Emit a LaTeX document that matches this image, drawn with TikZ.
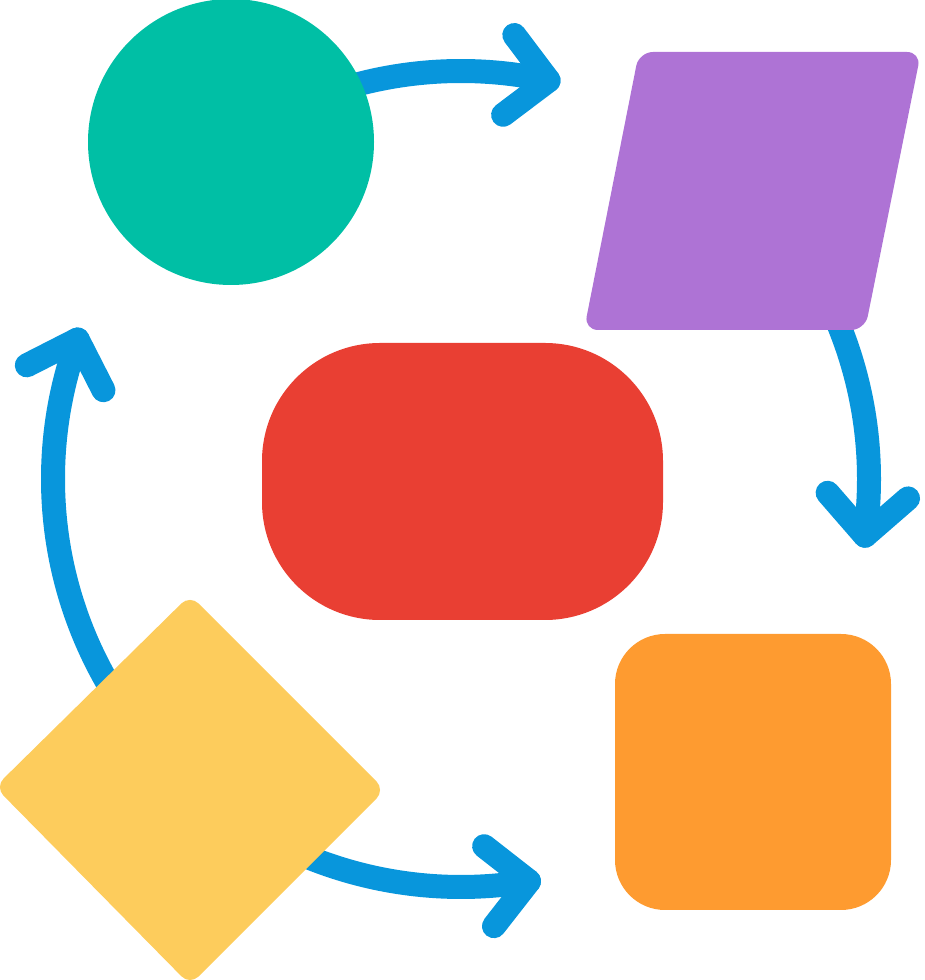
\documentclass[tikz,border=0pt]{standalone}
\usetikzlibrary{calc}
\definecolor{cteal}{HTML}{00BFA5}
\definecolor{cpurple}{HTML}{AE73D5}
\definecolor{cred}{HTML}{E93F33}
\definecolor{corange}{HTML}{FE9B30}
\definecolor{cyellow}{HTML}{FDCC5C}
\definecolor{cblue}{HTML}{0896DC}
\begin{document}
\begin{tikzpicture}[x=1pt,y=1pt,
  flow/.style={draw=cblue, line width=24pt, line cap=round, line join=round},
  blob/.style={draw=none, inner sep=0pt, outer sep=0pt}]
\useasboundingbox (0,0) rectangle (925,980);
\coordinate (C) at (461,501);
% arrows (drawn first, shapes cover their starts)
\coordinate (a1s) at ($(C)+(110:408pt)$);
\draw[flow] (a1s) arc[start angle=110, end angle=77.6, radius=408pt] coordinate (a1e);
\draw[flow] ($(a1e)+(127:57pt)$) -- (a1e) -- ($(a1e)+(-143:57pt)$);
\coordinate (a2s) at ($(C)+(25:408pt)$);
\draw[flow] (a2s) arc[start angle=25, end angle=-8, radius=408pt] coordinate (a2e);
\draw[flow] ($(a2e)+(41:57pt)$) -- (a2e) -- ($(a2e)+(131:57pt)$);
\coordinate (a3s) at ($(C)+(245:408pt)$);
\draw[flow] (a3s) arc[start angle=245, end angle=279.6, radius=408pt] coordinate (a3e);
\draw[flow] ($(a3e)+(142:57pt)$) -- (a3e) -- ($(a3e)+(-128:57pt)$);
\coordinate (a4s) at ($(C)+(215:408pt)$);
\draw[flow] (a4s) arc[start angle=215, end angle=160, radius=408pt] coordinate (a4e);
\draw[flow] ($(a4e)+(207:57pt)$) -- (a4e) -- ($(a4e)+(-63:57pt)$);
% shapes
\node[blob, circle, fill=cteal, minimum size=286pt] (circ) at (231,838) {};
\path[fill=cpurple, rounded corners=14pt] (639,928) -- (921,928) -- (865,650) -- (584,650) -- cycle;
\coordinate (para) at (752,789);
\node[blob, rectangle, rounded corners=118pt, fill=cred, minimum width=401pt, minimum height=277pt] (term) at (462.5,498.5) {};
\node[blob, rectangle, rounded corners=50pt, fill=corange, minimum width=276pt, minimum height=276pt] (proc) at (753,208) {};
\path[fill=cyellow, rounded corners=12pt] (190,385) -- (385,190) -- (190,-5) -- (-5,193) -- cycle;
\coordinate (dec) at (190,192);
\end{tikzpicture}
\end{document}
